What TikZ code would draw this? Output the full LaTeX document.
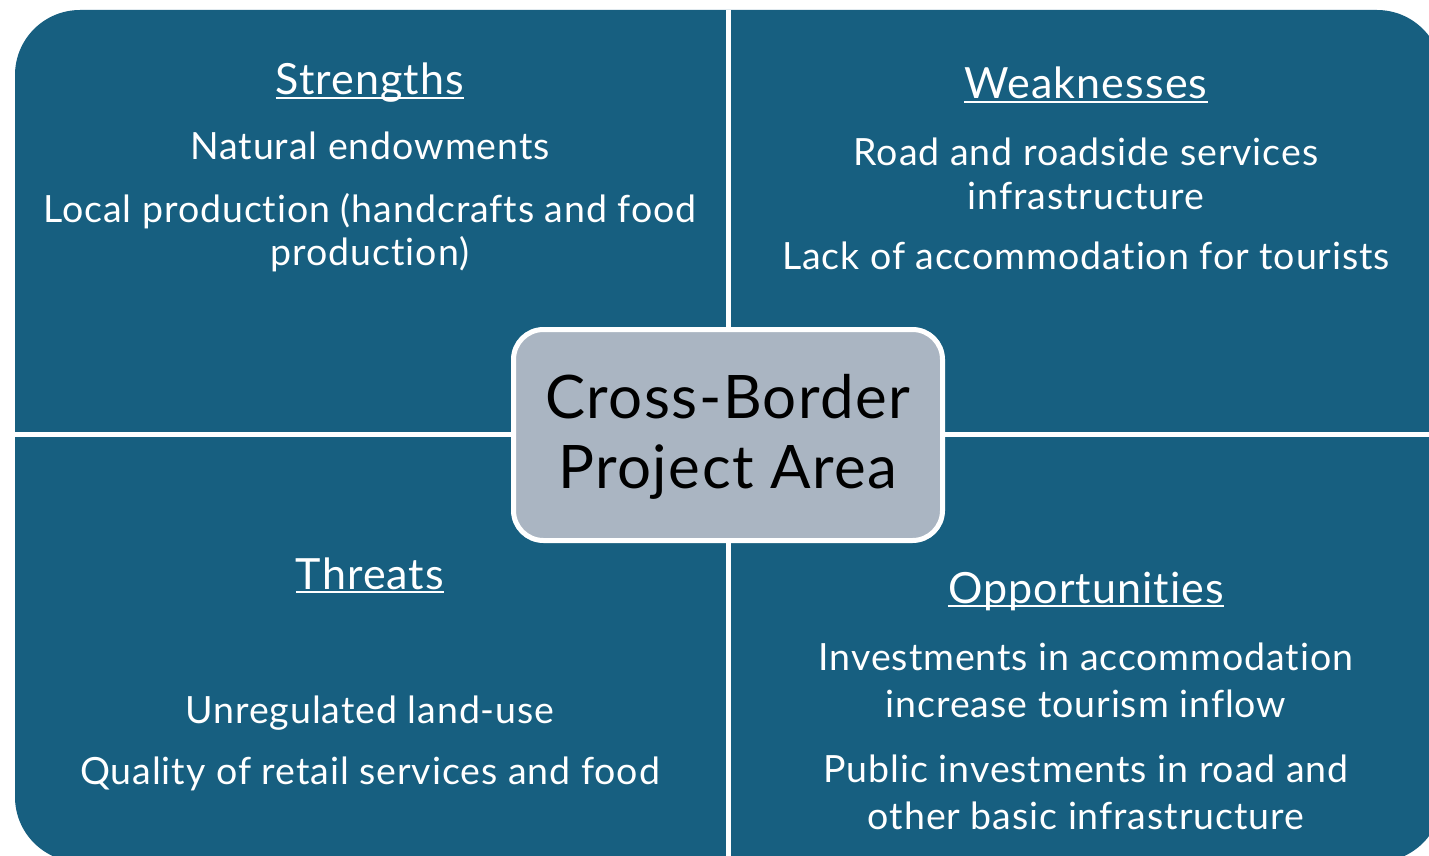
\documentclass[tikz,border=0pt]{standalone}
\usepackage{fontspec}
\setmainfont{Lato}[Ligatures=NoCommon, LetterSpace=2.5]
\definecolor{swotblue}{HTML}{175F80}
\definecolor{centergray}{HTML}{AAB5C2}

\begin{document}
\begin{tikzpicture}[x=1pt, y=-1pt,
  body/.style={white, font=\fontsize{37.5}{44}\selectfont, inner sep=0pt, anchor=base},
  head/.style={body, font=\fontsize{43}{50}\selectfont},
  title/.style={black, font=\fontsize{60}{70}\selectfont, inner sep=0pt, anchor=base},
  uline/.style={white, line width=2pt}]
\useasboundingbox (0,0) rectangle (1429,856);
\fill[white] (0,0) rectangle (1429,856);
\begin{scope}
\clip (0,0) rectangle (1429,856);
\fill[swotblue, rounded corners=65pt] (15,10) rectangle (1442,862);
\end{scope}
\draw[white, line width=5pt] (728.5,10) -- (728.5,856);
\draw[white, line width=5pt] (15,434.5) -- (1429,434.5);

% strengths
\node[head] (strengths) at (370,95) {Strengths};
\node[body] (s1) at (370,159) {Natural endowments};
\node[body] (s2) at (370,222) {Local production (handcrafts and food};
\node[body] (s3) at (370,265) {production)};

% weaknesses
\node[head] (weaknesses) at (1086,99) {Weaknesses};
\node[body] (w1) at (1086,165) {Road and roadside services};
\node[body] (w2) at (1086,209) {infrastructure};
\node[body] (w3) at (1086,269) {Lack of accommodation for tourists};

% threats
\node[head] (threats) at (370,589) {Threats};
\node[body] (t1) at (370,723) {Unregulated land-use};
\node[body] (t2) at (370,784) {Quality of retail services and food};

% opportunities
\node[head] (opportunities) at (1086,603) {Opportunities};
\node[body] (o1) at (1086,670) {Investments in accommodation};
\node[body] (o2) at (1086,717) {increase tourism inflow};
\node[body] (o3) at (1086,782) {Public investments in road and};
\node[body] (o4) at (1086,829) {other basic infrastructure};

\foreach \h in {strengths, weaknesses, threats, opportunities}
  \draw[uline] ([yshift=-3pt]\h.base west) -- ([yshift=-3pt]\h.base east);

% centre box
\node[draw=white, line width=5pt, fill=centergray, rounded corners=30pt,
  minimum width=429pt, minimum height=211pt] (area) at (728,435) {};
\node[title] (title1) at (728,418) {Cross-Border};
\node[title] (title2) at (728,488) {Project Area};

\end{tikzpicture}
\end{document}
